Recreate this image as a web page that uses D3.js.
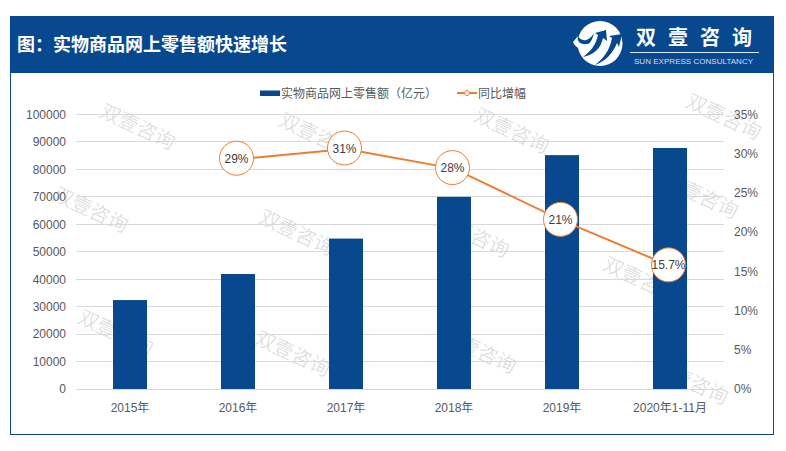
<!DOCTYPE html>
<html>
<head>
<meta charset="utf-8">
<script src="https://cdn.jsdelivr.net/npm/d3@7"></script>
<style>
  html, body { margin: 0; padding: 0; background: #fff; }
  text { font-family: "Liberation Sans", "Noto Sans CJK SC", sans-serif; }
  .tick line { stroke: none; }
  .domain { display: none; }
</style>
</head>
<body>
<div id="chart"></div>
<script>
const categories = ["2015年", "2016年", "2017年", "2018年", "2019年", "2020年1-11月"];
const salesValues = [32400, 41900, 54800, 70000, 85200, 87800];
const growthValues = [null, 29.3, 30.6, 28.1, 21.5, 15.7];
const growthLabels = ["", "29%", "31%", "28%", "21%", "15.7%"];
const salesTicks = [0, 10000, 20000, 30000, 40000, 50000, 60000, 70000, 80000, 90000, 100000];
const growthTicks = [0, 5, 10, 15, 20, 25, 30, 35];
const watermarks = [[137, 128], [316, 137], [511, 132], [723, 118], [90, 211], [296, 234], [471, 236], [700, 197],
  [115, 334], [292, 355], [478, 352], [640, 281], [690, 383]];

const width = 786;
const height = 451;
const blue = "#07488e";
const orange = "#ed7d31";
const grey = "#595959";

const svg = d3.select("#chart").append("svg")
  .attr("width", width)
  .attr("height", height)
  .style("display", "block");

// frame and header
svg.append("rect").attr("x", 10.5).attr("y", 16.5).attr("width", 763).attr("height", 418)
  .attr("fill", "#fff").attr("stroke", blue).attr("stroke-width", 1);
svg.append("rect").attr("x", 10).attr("y", 16).attr("width", 764).attr("height", 57).attr("fill", blue);
svg.append("text").attr("x", 17).attr("y", 51)
  .attr("fill", "#fff").attr("font-size", 18).attr("font-weight", "bold")
  .text("图：实物商品网上零售额快速增长");

// logo
const logo = svg.append("g");
logo.append("circle").attr("cx", 600).attr("cy", 43.5).attr("r", 22.5).attr("fill", "#fff");
logo.append("path").attr("fill", blue)
  .attr("d", "M595,33 L606,30 L607,41 L603,38 C601,48 594,55 583,57 C590,52 596,45 598,35 Z");
logo.append("path").attr("fill", blue)
  .attr("d", "M609,36 L622,34 L619,47 L617,43 C613,53 606,61 595,65 C603,59 610,50 612,38 Z");
logo.append("path").attr("fill", blue)
  .attr("d", "M577,34 C580,42 588,43 594,33 C591,47 582,50 576,44 Z");
logo.append("path").attr("fill", "#fff")
  .attr("d", "M573,42 L578,36 C576,43 584,47 592,42 C586,51 576,50 573,42 Z");
svg.append("text").attr("x", 636).attr("y", 45).attr("fill", "#fff")
  .attr("font-size", 20).attr("font-weight", "bold").attr("letter-spacing", 12).text("双壹咨询");
svg.append("line").attr("x1", 630).attr("x2", 759).attr("y1", 52.5).attr("y2", 52.5)
  .attr("stroke", "#dfe7f1").attr("stroke-width", 1);
svg.append("text").attr("x", 634).attr("y", 64).attr("fill", "#d5dfec")
  .attr("font-size", 8.05).text("SUN EXPRESS CONSULTANCY");

const x = d3.scaleBand().domain(categories).range([76, 724]);
const y = d3.scaleLinear().domain([0, 100000]).range([389, 114.5]);
const yRight = d3.scaleLinear().domain([0, 35]).range([389, 114.5]);
const barWidth = 34;
const cx = (d) => x(d) + x.bandwidth() / 2;

// gridlines
svg.append("g").selectAll("line").data(salesTicks).enter().append("line")
  .attr("x1", 76).attr("x2", 724)
  .attr("y1", (d) => y(d)).attr("y2", (d) => y(d))
  .attr("stroke", "#d9d9d9").attr("stroke-width", 1)
  .attr("shape-rendering", "crispEdges");

// watermark sits under the bars
svg.append("g").selectAll("text").data(watermarks).enter().append("text")
  .attr("transform", (d) => `translate(${d[0]},${d[1]}) rotate(25)`)
  .attr("text-anchor", "middle").attr("dominant-baseline", "middle")
  .attr("font-size", 20).attr("fill", "#d9d9d9")
  .style("font-family", "'Noto Sans CJK SC'").style("font-weight", 300)
  .text("双壹咨询");

// bars
svg.append("g").selectAll("rect").data(salesValues).enter().append("rect")
  .attr("x", (d, i) => cx(categories[i]) - barWidth / 2)
  .attr("y", (d) => y(d))
  .attr("width", barWidth)
  .attr("height", (d) => y(0) - y(d))
  .attr("fill", blue);

// growth line
const points = growthValues.map((v, i) => ({ v: v, cat: categories[i], label: growthLabels[i] }))
  .filter((d) => d.v != null);
const line = d3.line().x((d) => cx(d.cat)).y((d) => yRight(d.v));
svg.append("path").datum(points).attr("d", line)
  .attr("fill", "none").attr("stroke", orange).attr("stroke-width", 2);

// label bubbles sit a little up and left of the points
const bubbles = svg.append("g").selectAll("g").data(points).enter().append("g")
  .attr("transform", (d) => `translate(${cx(d.cat) - 1.5},${yRight(d.v) - 1})`);
bubbles.append("circle").attr("r", 17).attr("fill", "#fff").attr("stroke", orange).attr("stroke-width", 1);
bubbles.append("text").attr("text-anchor", "middle").attr("y", 4.5)
  .attr("font-size", 12).attr("fill", "#404040").text((d) => d.label);

// axes
const styleAxis = (g) => g.selectAll("text").attr("fill", grey).attr("font-size", 12);
svg.append("g").attr("transform", "translate(76,0)")
  .call(d3.axisLeft(y).tickValues(salesTicks).tickSize(0).tickPadding(10).tickFormat(d3.format("d")))
  .call(styleAxis);
svg.append("g").attr("transform", "translate(724,0)")
  .call(d3.axisRight(yRight).tickValues(growthTicks).tickSize(0).tickPadding(10).tickFormat((d) => d + "%"))
  .call(styleAxis);
svg.append("g").attr("transform", "translate(0,389)")
  .call(d3.axisBottom(x).tickSize(0).tickPadding(14))
  .call(styleAxis);

// legend
const legend = svg.append("g");
legend.append("rect").attr("x", 260).attr("y", 90.5).attr("width", 20).attr("height", 5.5).attr("fill", blue);
legend.append("text").attr("x", 281).attr("y", 98).attr("font-size", 12).attr("fill", grey)
  .text("实物商品网上零售额（亿元）");
legend.append("line").attr("x1", 457).attr("x2", 477).attr("y1", 93).attr("y2", 93)
  .attr("stroke", orange).attr("stroke-width", 2);
legend.append("circle").attr("cx", 467).attr("cy", 93).attr("r", 2.5)
  .attr("fill", "#fff").attr("stroke", orange).attr("stroke-width", 1);
legend.append("text").attr("x", 478).attr("y", 98).attr("font-size", 12).attr("fill", grey)
  .text("同比增幅");
</script>
</body>
</html>
